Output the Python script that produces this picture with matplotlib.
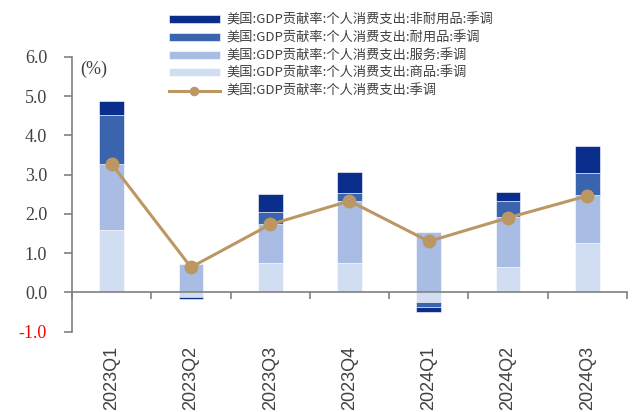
import matplotlib.pyplot as plt
import numpy as np

plt.rcParams['font.family'] = ['Noto Sans CJK SC', 'DejaVu Sans']

quarters = ['2023Q1', '2023Q2', '2023Q3', '2023Q4', '2024Q1', '2024Q2', '2024Q3']
goods = [1.60, -0.08, 0.76, 0.74, -0.25, 0.65, 1.26]        # 商品
services = [1.67, 0.72, 0.98, 1.59, 1.55, 1.26, 1.21]      # 服务
durable = [1.25, -0.03, 0.31, 0.21, -0.13, 0.42, 0.57]     # 耐用品
nondurable = [0.35, -0.05, 0.45, 0.53, -0.11, 0.23, 0.68]  # 非耐用品
pce = [3.27, 0.64, 1.73, 2.33, 1.30, 1.90, 2.46]           # 个人消费支出

names = ['美国:GDP贡献率:个人消费支出:商品:季调',
         '美国:GDP贡献率:个人消费支出:服务:季调',
         '美国:GDP贡献率:个人消费支出:耐用品:季调',
         '美国:GDP贡献率:个人消费支出:非耐用品:季调']
line_name = '美国:GDP贡献率:个人消费支出:季调'
colors = ['#D1DDF1', '#A8BCE4', '#3A64AE', '#0B2E8C']
line_color = '#BC9764'

fig = plt.figure(figsize=(6.32, 4.12), dpi=100)
ax = fig.add_axes([0.114, 0.195, 0.878, 0.667])

x = np.arange(len(quarters))
pos_bottom = np.zeros(len(x))
neg_bottom = np.zeros(len(x))
bars = []
for vals, c, n in zip([goods, services, durable, nondurable], colors, names):
    v = np.array(vals)
    bottom = np.where(v >= 0, pos_bottom, neg_bottom)
    b = ax.bar(x, v, width=0.31, bottom=bottom, color=c, edgecolor='white',
               linewidth=0.4, label=n, zorder=2)
    bars.append(b)
    pos_bottom += np.where(v >= 0, v, 0)
    neg_bottom += np.where(v < 0, v, 0)

ln, = ax.plot(x, pce, color=line_color, linewidth=2.2, marker='o',
              markersize=9, label=line_name, zorder=3)

ax.set_xlim(-0.5, len(x) - 0.5)
ax.set_ylim(-1, 6)
ax.set_yticks(np.arange(-1, 7, 1))
ax.set_yticklabels(['%.1f' % t for t in np.arange(-1, 7, 1)],
                   family='Liberation Serif', fontsize=13, color='#404040')
ax.get_yticklabels()[0].set_color('red')
ax.tick_params(axis='y', direction='out', length=6, width=1.2,
               color='#808080', pad=12)

for s in ['top', 'right']:
    ax.spines[s].set_visible(False)
ax.spines['left'].set_color('#808080')
ax.spines['left'].set_linewidth(1.2)
ax.spines['bottom'].set_position(('data', 0))
ax.spines['bottom'].set_color('#808080')
ax.spines['bottom'].set_linewidth(1.2)

# tick marks between quarters, labels below the plot
ax.set_xticks(np.arange(-0.5, len(x), 1))
ax.set_xticklabels([])
ax.tick_params(axis='x', direction='out', length=5, width=1.2, color='#808080')
for i, q in enumerate(quarters):
    ax.text(i, -0.05, q, transform=ax.get_xaxis_transform(), rotation=90,
            ha='center', va='top', fontsize=13, family='Liberation Sans',
            color='#404040')

ax.text(0.015, 0.985, '(%)', transform=ax.transAxes, ha='left', va='top',
        fontsize=13, family='Liberation Serif', color='#404040')

handles = [bars[3], bars[2], bars[1], bars[0], ln]
labels = [names[3], names[2], names[1], names[0], line_name]
fig.legend(handles, labels, loc='upper left', bbox_to_anchor=(0.252, 0.99),
           frameon=False, fontsize=9.5, handlelength=3.9, handleheight=0.55,
           labelspacing=0.35, handletextpad=0.5, borderpad=0.2,
           markerscale=0.65, labelcolor='#404040')

fig.savefig('out.png', dpi=100)
